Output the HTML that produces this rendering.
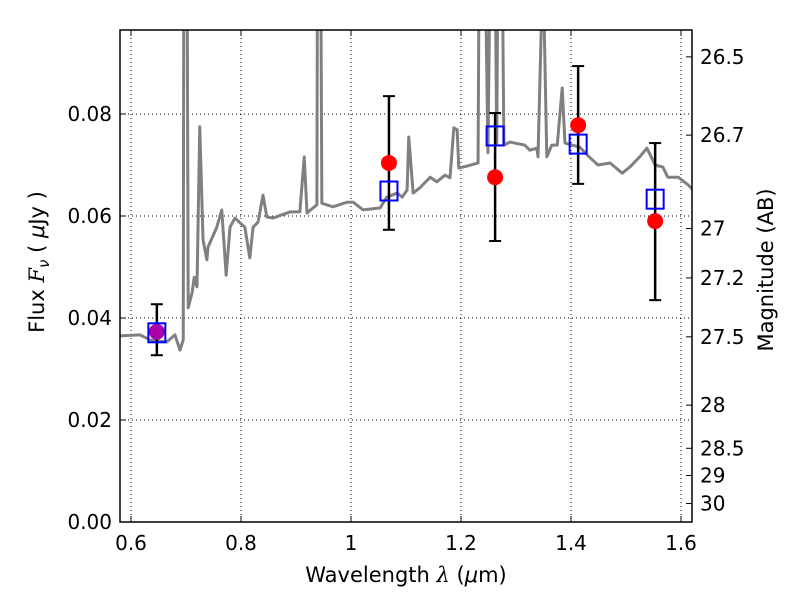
<!DOCTYPE html>
<html><head><meta charset="utf-8"><style>
body{margin:0;background:#fff}
svg{font-family:"DejaVu Sans","Liberation Sans",sans-serif}
</style></head><body>
<svg id="c" width="800" height="600"></svg>
<script>
const specLam=[0.580,0.616,0.635,0.665,0.680,0.689,0.695,0.696,0.702,0.704,0.711,0.715,0.720,0.725,0.731,0.738,0.740,0.756,0.765,0.773,0.780,0.789,0.807,0.816,0.822,0.831,0.840,0.847,0.858,0.889,0.907,0.915,0.920,0.938,0.939,0.945,0.947,0.967,0.993,1.004,1.022,1.053,1.065,1.084,1.093,1.102,1.105,1.113,1.125,1.144,1.156,1.171,1.180,1.187,1.193,1.196,1.211,1.231,1.233,1.244,1.249,1.253,1.262,1.265,1.267,1.275,1.278,1.289,1.316,1.325,1.338,1.340,1.349,1.356,1.365,1.375,1.384,1.389,1.416,1.429,1.449,1.471,1.493,1.507,1.525,1.538,1.553,1.567,1.576,1.595,1.613,1.622];
const specFlux=[0.0365,0.0367,0.0357,0.0353,0.0367,0.0337,0.0357,0.11,0.11,0.042,0.0449,0.048,0.0461,0.0775,0.0553,0.0514,0.0539,0.0578,0.0612,0.0484,0.0578,0.0596,0.0578,0.0518,0.0578,0.0588,0.0641,0.0598,0.0596,0.0608,0.0608,0.0716,0.0606,0.0622,0.11,0.11,0.0625,0.0618,0.0627,0.0627,0.0612,0.0616,0.0637,0.0645,0.0637,0.0651,0.0755,0.0645,0.0655,0.0676,0.0667,0.068,0.0675,0.0773,0.0769,0.0694,0.0698,0.0704,0.11,0.11,0.0724,0.11,0.11,0.0743,0.11,0.11,0.0739,0.0745,0.0739,0.0729,0.0733,0.0716,0.11,0.0716,0.0739,0.0739,0.0851,0.0743,0.0735,0.072,0.07,0.0704,0.0684,0.0696,0.0716,0.0733,0.07,0.0696,0.0676,0.0676,0.0661,0.0651];
const photLam=[0.647,1.069,1.262,1.413,1.553];
const obsFlux=[0.0373,0.0704,0.0676,0.0778,0.059];
const obsHi=[0.0427,0.0835,0.0802,0.0894,0.0743];
const obsLo=[0.0327,0.0573,0.0551,0.0663,0.0435];
const modelFlux=[0.0371,0.0649,0.0757,0.0741,0.0633];
const xTicks=[0.6,0.8,1.0,1.2,1.4,1.6];
const xTickLabels=["0.6","0.8","1","1.2","1.4","1.6"];
const yTicks=[0,0.02,0.04,0.06,0.08];
const yTickLabels=["0.00","0.02","0.04","0.06","0.08"];
const magTicks=[26.5,26.7,27,27.2,27.5,28,28.5,29,30];
const magTickLabels=["26.5","26.7","27","27.2","27.5","28","28.5","29","30"];

const L=120,R=692,T=30,B=522;
const X=v=>131+(v-0.6)*550;
const Y=v=>522-v*5100;
const NS="http://www.w3.org/2000/svg";
const svg=document.getElementById('c');
function mk(t,a,p){const e=document.createElementNS(NS,t);for(const k in a)e.setAttribute(k,a[k]);(p||svg).appendChild(e);return e;}
const defs=mk('defs',{});const cp=mk('clipPath',{id:'pc'},defs);mk('rect',{x:L,y:T,width:R-L,height:B-T},cp);
const grid=mk('g',{});


xTicks.forEach((v,i)=>{
 mk('line',{x1:X(v),x2:X(v),y1:T,y2:B,stroke:'#000','stroke-width':1,'stroke-dasharray':'1,3'},grid);
 mk('line',{x1:X(v),x2:X(v),y1:B,y2:B-6,stroke:'#000'});
 mk('line',{x1:X(v),x2:X(v),y1:T,y2:T+6,stroke:'#000'});
 const t=mk('text',{x:X(v),y:B+28,'text-anchor':'middle','font-size':20});t.textContent=xTickLabels[i];
 
 
});
yTicks.forEach((v,i)=>{
 mk('line',{x1:L,x2:R,y1:Y(v),y2:Y(v),stroke:'#000','stroke-width':1,'stroke-dasharray':'1,3'},grid);
 mk('line',{x1:L,x2:L+6,y1:Y(v),y2:Y(v),stroke:'#000'});
 const t=mk('text',{x:L-8,y:Y(v)+7,'text-anchor':'end','font-size':20});t.textContent=yTickLabels[i];
 
 
});
magTicks.forEach((m,i)=>{
 const y=Y(Math.pow(10,(23.9-m)/2.5));
 mk('line',{x1:R,x2:R-6,y1:y,y2:y,stroke:'#000'});
 const t=mk('text',{x:R+8,y:y+7,'font-size':20});t.textContent=magTickLabels[i];
 
 
});
const g=mk('g',{'clip-path':'url(#pc)'});
const sp=mk('polyline',{points:specLam.map((l,i)=>X(l)+','+Y(specFlux[i])).join(' '),fill:'none',stroke:'#808080','stroke-width':3,'stroke-linejoin':'round'},g);


photLam.forEach((l,i)=>{
 const x=X(l);
 const eb=mk('g',{},g);
 
 
 mk('line',{x1:x,x2:x,y1:Y(obsHi[i]),y2:Y(obsLo[i]),stroke:'#000','stroke-width':2.5},eb);
 mk('line',{x1:x-6,x2:x+6,y1:Y(obsHi[i]),y2:Y(obsHi[i]),stroke:'#000','stroke-width':2},eb);
 mk('line',{x1:x-6,x2:x+6,y1:Y(obsLo[i]),y2:Y(obsLo[i]),stroke:'#000','stroke-width':2},eb);
 const c=mk('circle',{cx:x,cy:Y(obsFlux[i]),r:8,fill:i===0?'#aa00aa':'#ff0000'},g);
 
 
 const s=mk('rect',{x:x-8.5,y:Y(modelFlux[i])-9.5,width:17,height:19,fill:'none',stroke:'#0000ff','stroke-width':2},g);
 
 
});
const fr=mk('rect',{x:L,y:T,width:R-L,height:B-T,fill:'none',stroke:'#000','stroke-width':1.5});


</script>
<svg width="800" height="600" style="position:absolute;left:0;top:0;pointer-events:none">
<text x="406" y="582" text-anchor="middle" font-size="21" font-family="DejaVu Sans, sans-serif">Wavelength  <tspan font-style="italic" font-family="DejaVu Serif, serif">λ</tspan> (<tspan font-style="italic">μ</tspan>m)</text>
<text transform="translate(44,262) rotate(-90)" text-anchor="middle" font-size="21" font-family="DejaVu Sans, sans-serif">Flux  <tspan font-style="italic" font-family="DejaVu Serif, serif">F</tspan><tspan font-style="italic" font-size="15" dy="5">ν</tspan><tspan dy="-5">  (  </tspan><tspan font-style="italic">μ</tspan>Jy )</text>
<text transform="translate(773,270) rotate(-90)" text-anchor="middle" font-size="21" font-family="DejaVu Sans, sans-serif">Magnitude (AB)</text>
</svg>
</body></html>
